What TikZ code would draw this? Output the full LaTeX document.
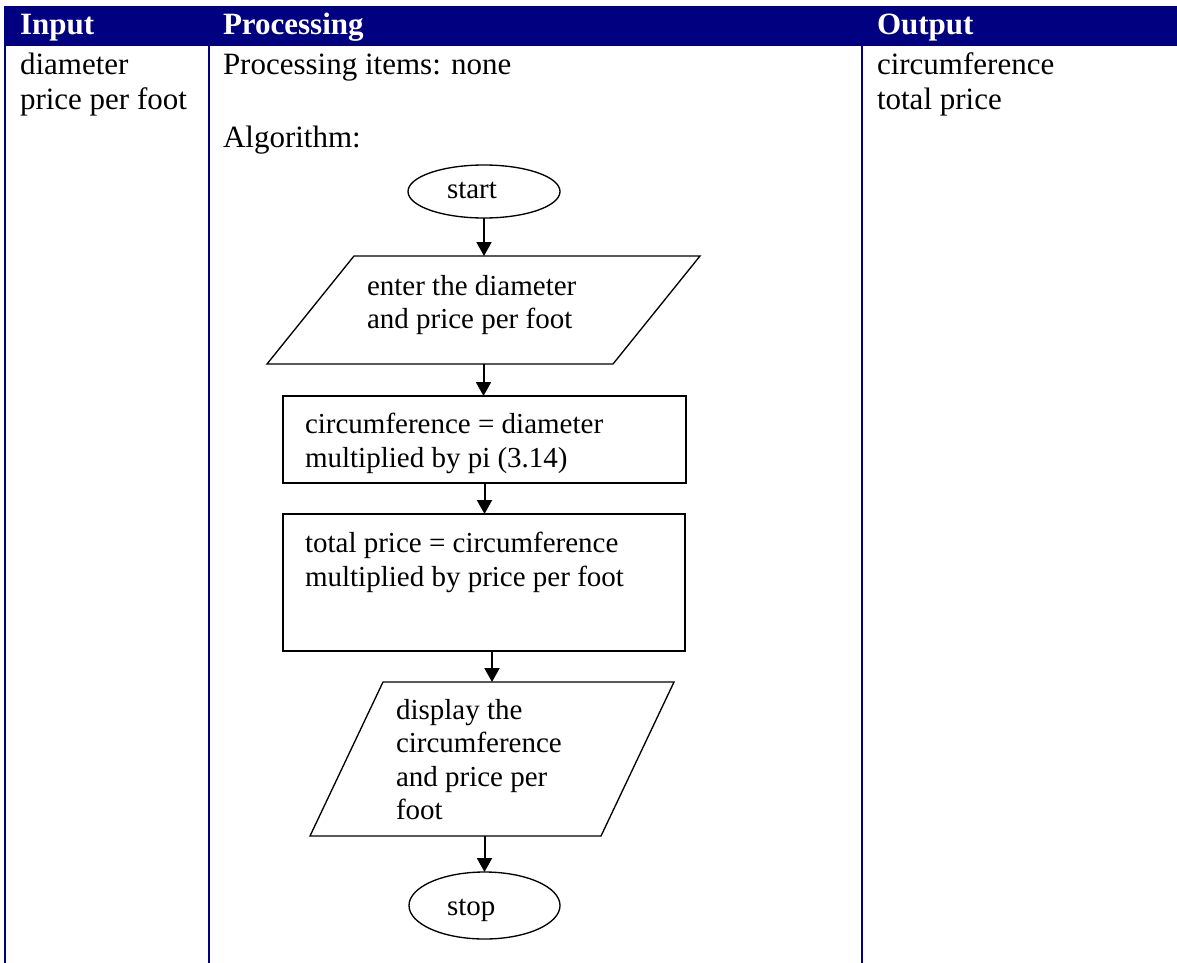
\documentclass[tikz,border=0pt]{standalone}
\usepackage{fontspec}
\setmainfont{Liberation Serif}
\usetikzlibrary{shapes.geometric,arrows.meta,calc}
\definecolor{navy}{RGB}{0,0,128}
\newcommand{\bodyfs}{\fontsize{23.25}{26}\selectfont}
\newcommand{\flowfs}{\fontsize{21.75}{25}\selectfont}
\begin{document}
\begin{tikzpicture}[x=0.75pt,y=-0.75pt,
  txt/.style={anchor=base west, inner sep=0, outer sep=0, font=\bodyfs},
  hdr/.style={anchor=base west, inner sep=0, outer sep=0, font=\bodyfs\bfseries, text=white},
  ftxt/.style={anchor=base west, inner sep=0, outer sep=0, font=\flowfs},
  gridline/.style={draw=navy, line width=1.6pt},
  term/.style={draw, ellipse, line width=1pt, inner sep=0, outer sep=0},
  proc/.style={draw, rectangle, line width=1pt, inner sep=0, outer sep=0},
  io/.style={rectangle, inner sep=0, outer sep=0},
  ioline/.style={line width=1pt, line join=miter},
  arr/.style={line width=1.5pt, -{Triangle[length=10.5pt,width=11.25pt]}}]
\useasboundingbox (0,0) rectangle (1177,963);
% table
\fill[navy] (4,6) rectangle (1177,46);
\draw[gridline] (5,44) -- (5,963);
\draw[gridline] (209,44) -- (209,963);
\draw[gridline] (862,44) -- (862,963);
\node[hdr] (hIn) at (20,35) {Input};
\node[hdr] (hProc) at (223,35) {Processing};
\node[hdr] (hOut) at (877,35) {Output};
\node[txt] (in1t) at (20,75) {diameter};
\node[txt] (in2t) at (20,110) {price per foot};
\node[txt] (p1t) at (223,75) {Processing items: none};
\node[txt] (p2t) at (223,148) {Algorithm:};
\node[txt] (o1t) at (877,75) {circumference};
\node[txt] (o2t) at (877,110) {total price};
% flowchart shapes
\node[term, minimum width=114pt, minimum height=39.75pt] (start) at (484,191.5) {};
\node[ftxt] (startT) at (447,198) {start};
\node[io, minimum width=324.75pt, minimum height=81pt] (inp) at (483.5,310) {};
\draw[ioline] ($(inp.north west)+(87,0)$) -- (inp.north east) -- ($(inp.south east)+(-87,0)$) -- (inp.south west) -- cycle;
\node[ftxt] (inpT1) at (367,295) {enter the diameter};
\node[ftxt] (inpT2) at (367,328) {and price per foot};
\node[proc, minimum width=302.25pt, minimum height=65.25pt] (boxA) at (484.5,439.5) {};
\node[ftxt] (boxAT1) at (305,433) {circumference = diameter};
\node[ftxt] (boxAT2) at (305,467) {multiplied by pi (3.14)};
\node[proc, minimum width=301.5pt, minimum height=102.75pt] (boxB) at (484,582.5) {};
\node[ftxt] (boxBT1) at (305,552) {total price = circumference};
\node[ftxt] (boxBT2) at (305,586) {multiplied by price per foot};
\node[io, minimum width=273pt, minimum height=115.5pt] (outp) at (492,759) {};
\draw[ioline] ($(outp.north west)+(73,0)$) -- (outp.north east) -- ($(outp.south east)+(-73,0)$) -- (outp.south west) -- cycle;
\node[ftxt] (outT1) at (396,719) {display the};
\node[ftxt] (outT2) at (396,752.5) {circumference};
\node[ftxt] (outT3) at (396,786) {and price per};
\node[ftxt] (outT4) at (396,819.5) {foot};
\node[term, minimum width=113.25pt, minimum height=50.25pt] (stop) at (484.5,905.5) {};
\node[ftxt] (stopT) at (447,915) {stop};
% connectors
\draw[arr] (start.south) -- (start.south |- inp.north);
\draw[arr] (inp.south) -- (inp.south |- boxA.north);
\draw[arr] (boxA.south) -- (boxA.south |- boxB.north);
\draw[arr] (outp.north |- boxB.south) -- (outp.north);
\draw[arr] (stop.north |- outp.south) -- (stop.north);
\end{tikzpicture}
\end{document}
